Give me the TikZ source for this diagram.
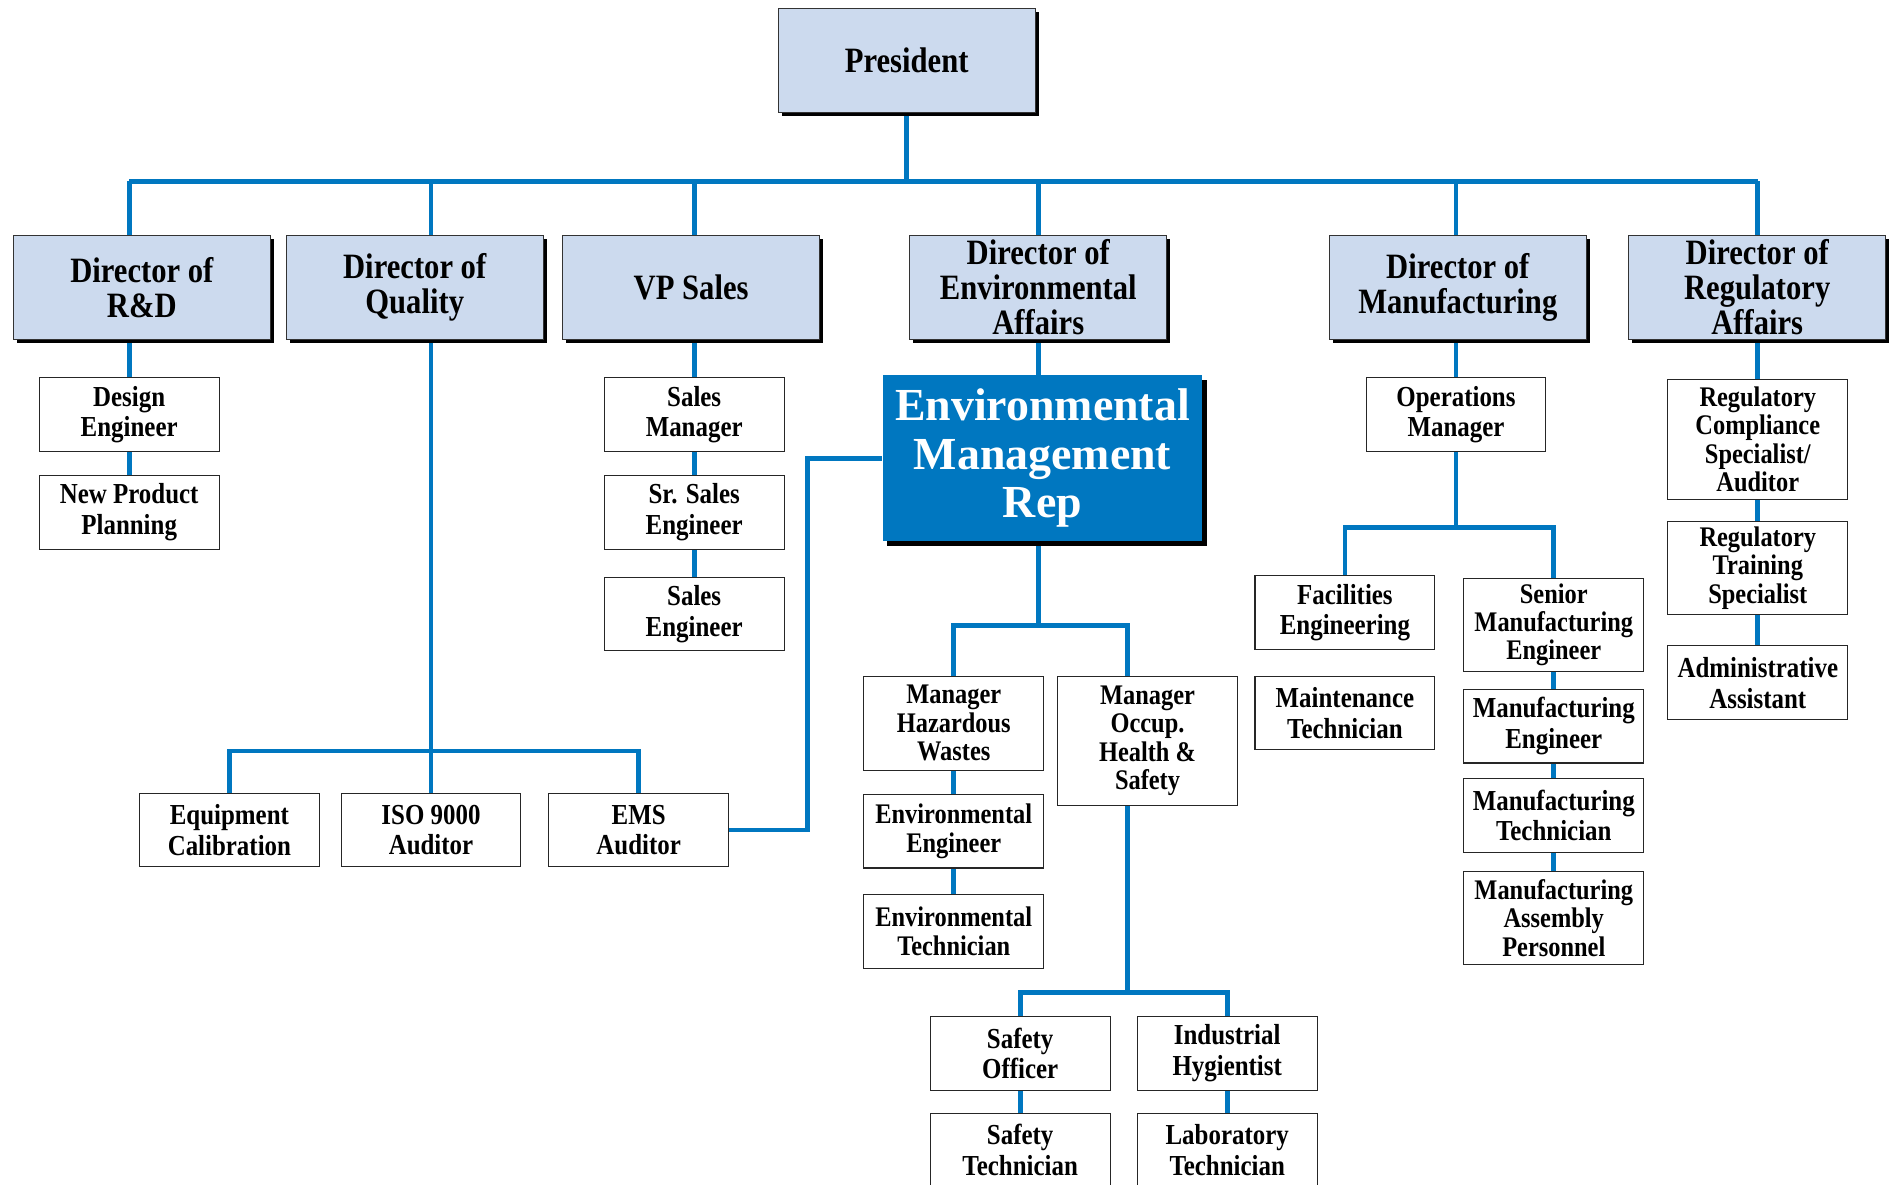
\documentclass[tikz,border=0pt]{standalone}
\usepackage{fontspec}
\setmainfont{Liberation Serif}
\newfontfamily\condfont[FakeStretch=0.86]{Liberation Serif}
\usetikzlibrary{shadows,backgrounds}
\definecolor{chartblue}{RGB}{0,119,192}
\definecolor{headfill}{RGB}{204,218,238}
\tikzset{
  topbox/.style={draw=black!80, line width=0.8pt, fill=headfill, inner sep=0pt,
    minimum width=213, minimum height=86, align=center,
    font=\condfont\bfseries\fontsize{29.5}{29}\selectfont,
    drop shadow={shadow xshift=3pt, shadow yshift=-3pt, opacity=1, fill=black}},
  unitbox/.style={draw=black!85, line width=0.9pt, fill=white, inner sep=0pt,
    minimum width=149, minimum height=61, align=center,
    font=\condfont\bfseries\fontsize{24}{25.5}\selectfont},
  tightbox/.style={unitbox, font=\condfont\bfseries\fontsize{23.5}{23.5}\selectfont},
  emrbox/.style={fill=chartblue, text=white, inner sep=0pt,
    minimum width=265, minimum height=137, align=center,
    font=\bfseries\fontsize{38}{40}\selectfont,
    drop shadow={shadow xshift=4pt, shadow yshift=-4pt, opacity=1, fill=black}},
  link/.style={draw=chartblue, line width=4pt}
}

\begin{document}
\begin{tikzpicture}[x=1pt, y=-1pt]
		%%%%% FRAME %%%%%
		\path[use as bounding box, clip] (0,0) rectangle (1568,981);
		
		%%%%% TOP %%%%%
		\node[topbox] (pres) at (751, 50) {President};
		
		\node[topbox] (rd) at (117.5, 238) {Director of\\R\&D};
		\node[topbox] (qual) at (343.5, 238) {Director of\\Quality};
		\node[topbox] (vps) at (572.5, 238) {VP Sales};
		\node[topbox] (envaff) at (860, 238) {Director of\\Environmental\\Affairs};
		\node[topbox] (mfg) at (1207.5, 238) {Director of\\Manufacturing};
		\node[topbox] (reg) at (1455.5, 238) {Director of\\Regulatory\\Affairs};
		
		%%%%% R&D / QUALITY %%%%%
		\node[unitbox] (de) at (107, 343.5) {Design\\Engineer};
		\node[unitbox] (npp) at (107, 424.5) {New Product\\Planning};
		
		\node[unitbox] (eqc) at (190, 687.5) {Equipment\\Calibration};
		\node[unitbox] (iso) at (357, 687.5) {ISO 9000\\Auditor};
		\node[unitbox] (ems) at (529, 687.5) {EMS\\Auditor};
		
		%%%%% SALES %%%%%
		\node[unitbox] (sm) at (575, 343.5) {Sales\\Manager};
		\node[unitbox] (sse) at (575, 424.5) {Sr. Sales\\Engineer};
		\node[unitbox] (se) at (575, 508.5) {Sales\\Engineer};
		
		%%%%% ENVIRONMENTAL %%%%%
		\node[emrbox] (emr) at (863.5, 379.5) {Environmental\\Management\\Rep};
		
		\node[tightbox, minimum height=78] (mhw) at (790, 599) {Manager\\Hazardous\\Wastes};
		\node[tightbox] (eneng) at (790, 688.5) {Environmental\\Engineer};
		\node[tightbox] (entech) at (790, 771.5) {Environmental\\Technician};
		\node[tightbox, minimum height=107] (moh) at (950.5, 613.5) {Manager\\Occup.\\Health \&\\Safety};
		
		\node[unitbox] (so) at (845, 872.5) {Safety\\Officer};
		\node[unitbox] (ih) at (1016.5, 872.5) {Industrial\\Hygientist};
		\node[unitbox] (st) at (845, 952.5) {Safety\\Technician};
		\node[unitbox] (lt) at (1016.5, 952.5) {Laboratory\\Technician};
		
		%%%%% MANUFACTURING %%%%%
		\node[unitbox] (om) at (1206, 343.5) {Operations\\Manager};
		\node[unitbox] (fe) at (1114, 507.5) {Facilities\\Engineering};
		\node[unitbox] (mt) at (1114, 590.5) {Maintenance\\Technician};
		\node[tightbox, minimum height=77] (smfg) at (1287, 517.5) {Senior\\Manufacturing\\Engineer};
		\node[unitbox] (mfe) at (1287, 601.5) {Manufacturing\\Engineer};
		\node[unitbox] (mft) at (1287, 675.5) {Manufacturing\\Technician};
		\node[tightbox, minimum height=77] (map) at (1287, 760.5) {Manufacturing\\Assembly\\Personnel};
		
		%%%%% REGULATORY %%%%%
		\node[tightbox, minimum height=100] (rcs) at (1456, 364) {Regulatory\\Compliance\\Specialist/\\Auditor};
		\node[tightbox, minimum height=77] (rts) at (1456, 470.5) {Regulatory\\Training\\Specialist};
		\node[unitbox] (aa) at (1456, 565.5) {Administrative\\Assistant};
		
		%%%%% LINKS %%%%%
		\coordinate (bus) at (0, 150);
		\coordinate (qbus) at (0, 622);
		\coordinate (ebus) at (0, 518);
		\coordinate (ohj) at (934, 518);
		\coordinate (sbus) at (0, 822);
		\coordinate (mbus) at (0, 437);
		\coordinate (emsbend) at (669, 0);
		
		\begin{scope}[on background layer]
		\draw[link] (pres.south) -- (pres.south |- bus);
		\draw[link] (de.north |- bus) -- (rcs.north |- bus);
		
		\draw[link] (de.north |- bus) -- (npp.north);
		
		\draw[link] (iso.north |- bus) -- (iso.north);
		\draw[link] (eqc.north) |- (ems.north |- qbus) -- (ems.north);
		\draw[link] (ems.east) -| (emsbend |- emr.west) -- (emr.west);
		
		\draw[link] (sm.north |- bus) -- (se.north);
		
		\draw[link] (envaff.north |- bus) -- (envaff.north |- ebus);
		\draw[link] (mhw.north) |- (ohj) -- (ohj |- moh.north);
		\draw[link] (mhw.north) -- (entech.north);
		\draw[link] (ohj |- moh.south) -- (ohj |- sbus);
		\draw[link] (st.north) -- (st.north |- sbus) -| (lt.north);
		
		\draw[link] (om.north |- bus) -- (om.south |- mbus);
		\draw[link] (fe.north) |- (smfg.north |- mbus) -- (map.north);
		
		\draw[link] (rcs.north |- bus) -- (aa.north);
		\end{scope}
		%%%%% END %%%%%
	\end{tikzpicture}
\end{document}
